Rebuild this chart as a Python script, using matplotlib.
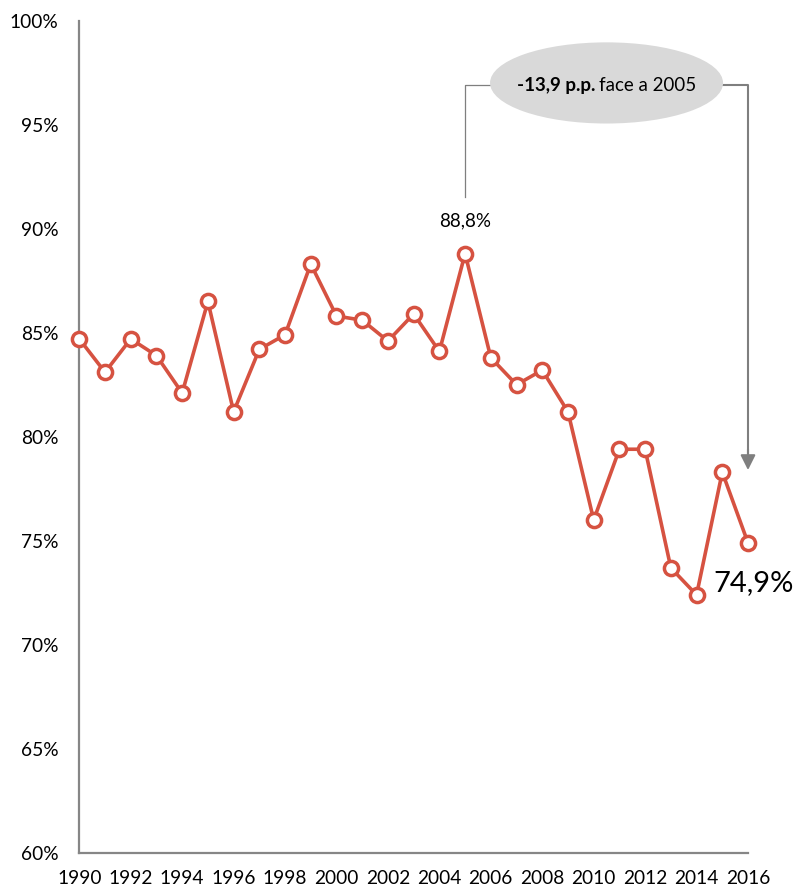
import matplotlib
matplotlib.use("Agg")
import matplotlib.pyplot as plt
from matplotlib.patches import Ellipse

plt.rcParams['font.family'] = ['Lato', 'DejaVu Sans']

years = list(range(1990, 2017))
values = [84.7, 83.1, 84.7, 83.9, 82.1, 86.5, 81.2, 84.2, 84.9, 88.3,
          85.8, 85.6, 84.6, 85.9, 84.1, 88.8, 83.8, 82.5, 83.2, 81.2,
          76.0, 79.4, 79.4, 73.7, 72.4, 78.3, 74.9]
y_ticks = [60, 65, 70, 75, 80, 85, 90, 95, 100]
x_ticks = list(range(1990, 2017, 2))

peak_year = 2005
peak_value = values[years.index(peak_year)]
last_year = years[-1]
last_value = values[-1]
change = last_value - peak_value

red = '#d65241'
grey = '#868686'

fig = plt.figure(figsize=(7.94, 8.90), dpi=100)
ax = fig.add_axes([79.3 / 794, 1 - 853 / 890, (748 - 79.3) / 794, (853 - 20.5) / 890])

ax.plot(years, values, color=red, lw=2.6, marker='o', ms=10.2,
        mfc='white', mec=red, mew=2.5, zorder=5, clip_on=False)

ax.set_xlim(1990, 2016)
ax.set_ylim(60, 100)
ax.set_yticks(y_ticks)
ax.set_yticklabels([f'{v}%' for v in y_ticks])
ax.set_xticks(x_ticks)
ax.set_xticklabels([str(x) for x in x_ticks])
ax.tick_params(axis='both', length=0, labelsize=13.8, colors='black')
ax.tick_params(axis='y', pad=15)
ax.tick_params(axis='x', pad=12)

for s in ['top', 'right']:
    ax.spines[s].set_visible(False)
for s in ['left', 'bottom']:
    ax.spines[s].set_color(grey)
    ax.spines[s].set_linewidth(1.6)

# value labels
ax.text(peak_year, peak_value + 1.55, f'{peak_value:.1f}%'.replace('.', ','),
        ha='center', va='center', fontsize=13.5)
ax.text(last_year - 1.33, last_value - 1.95, f'{last_value:.1f}%'.replace('.', ','),
        ha='left', va='center', fontsize=21)

# bracket from the 2005 peak to the latest value
bracket_y = 96.9
ell_cx, ell_cy = 2010.5, 97.0
ell_w, ell_h = 9.06, 3.9
line_grey = '#7f7f7f'
ax.plot([peak_year, peak_year, ell_cx - ell_w / 2], [91.5, bracket_y, bracket_y],
        color=line_grey, lw=0.9, clip_on=False, zorder=2)
ax.plot([ell_cx + ell_w / 2, last_year, last_year], [bracket_y, bracket_y, 79.2],
        color=line_grey, lw=1.5, clip_on=False, zorder=2)
ax.annotate('', xy=(last_year, 78.4), xytext=(last_year, 79.4),
            arrowprops=dict(arrowstyle='-|>,head_length=0.9,head_width=0.45',
                            color=line_grey, lw=1.5, shrinkA=0, shrinkB=0),
            annotation_clip=False)
ax.add_patch(Ellipse((ell_cx, ell_cy), ell_w, ell_h, facecolor='#d9d9d9',
                     edgecolor='none', clip_on=False, zorder=3))
split_x = 2010.05
ax.text(split_x, ell_cy - 0.1, f'{change:.1f} p.p.'.replace('.', ',', 1),
        ha='right', va='center', fontsize=13.5, fontweight='bold', zorder=4)
ax.text(split_x + 0.16, ell_cy - 0.1, f'face a {peak_year}',
        ha='left', va='center', fontsize=13.5, zorder=4)

fig.savefig('out.png', dpi=100)
